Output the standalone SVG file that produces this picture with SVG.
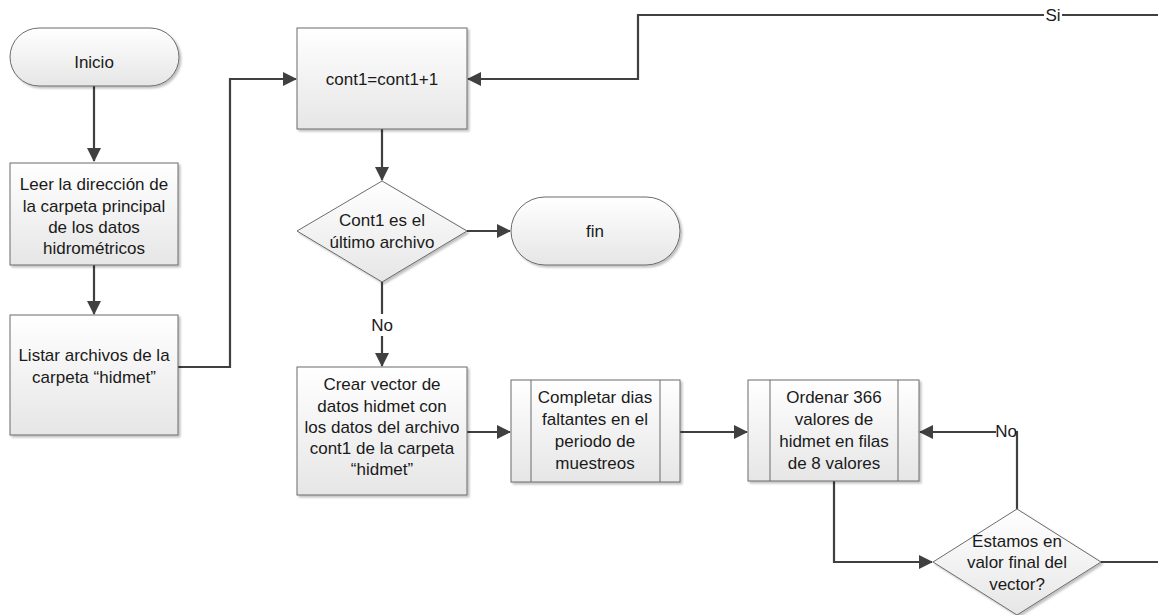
<svg xmlns="http://www.w3.org/2000/svg" width="1158" height="615" viewBox="0 0 1158 615">
<defs>
<linearGradient id="g" x1="0" y1="0" x2="0" y2="1">
<stop offset="0" stop-color="#ffffff"/>
<stop offset="1" stop-color="#e6e6e6"/>
</linearGradient>
<filter id="sh" x="-10%" y="-10%" width="130%" height="130%">
<feOffset in="SourceAlpha" dx="2" dy="2" result="o"/>
<feGaussianBlur in="o" stdDeviation="1.2" result="b"/>
<feComponentTransfer in="b" result="c"><feFuncA type="linear" slope="0.25"/></feComponentTransfer>
<feMerge><feMergeNode in="c"/><feMergeNode in="SourceGraphic"/></feMerge>
</filter>
<marker id="ah" markerWidth="14" markerHeight="14" refX="13" refY="7" orient="auto" markerUnits="userSpaceOnUse">
<path d="M0,0 L14,7 L0,14 Z" fill="#404040"/>
</marker>
</defs>
<style>
.s{fill:url(#g);stroke:#6b6b6b;stroke-width:1;filter:url(#sh)}
.l{fill:none;stroke:#404040;stroke-width:2.2}
.t{font-family:"Liberation Sans",Arial,sans-serif;font-size:17px;fill:#1a1a1a;text-anchor:middle}
.lb{fill:#ffffff}
</style>
<rect width="1158" height="615" fill="#ffffff"/>
<g id="connectors">
<path class="l" d="M94,86 V161" marker-end="url(#ah)"/>
<path class="l" d="M94,265 V314" marker-end="url(#ah)"/>
<path class="l" d="M178,367 H230 V79 H296" marker-end="url(#ah)"/>
<path class="l" d="M382,129 V180" marker-end="url(#ah)"/>
<path class="l" d="M467,231 H510" marker-end="url(#ah)"/>
<path class="l" d="M382,282 V366" marker-end="url(#ah)"/>
<path class="l" d="M467,432 H510" marker-end="url(#ah)"/>
<path class="l" d="M680,432 H747" marker-end="url(#ah)"/>
<path class="l" d="M834,481 V562 H932" marker-end="url(#ah)"/>
<path class="l" d="M1017,509 V432 H920" marker-end="url(#ah)"/>
<path class="l" d="M1101,562 H1160"/>
<path class="l" d="M1160,15 H638 V79 H468" marker-end="url(#ah)"/>
<rect class="lb" x="369" y="314" width="26" height="22"/>
<text class="t" x="382" y="331">No</text>
<rect class="lb" x="996" y="421" width="19" height="22"/>
<text class="t" x="1006" y="437">No</text>
<rect class="lb" x="1044" y="4" width="18" height="22"/>
<text class="t" x="1053" y="21">Si</text>
</g>
<g id="inicio">
<rect class="s" x="10" y="28" width="169" height="58" rx="29" ry="29"/>
<text class="t" x="94" y="68">Inicio</text>
</g>
<g id="leer">
<rect class="s" x="10" y="163" width="168" height="102"/>
<text class="t" x="94" y="190">Leer la dirección de</text>
<text class="t" x="94" y="212">la carpeta principal</text>
<text class="t" x="94" y="233">de los datos</text>
<text class="t" x="94" y="254">hidrométricos</text>
</g>
<g id="listar">
<rect class="s" x="10" y="315" width="168" height="120"/>
<text class="t" x="94" y="361">Listar archivos de la</text>
<text class="t" x="94" y="383">carpeta “hidmet”</text>
</g>
<g id="cont">
<rect class="s" x="297" y="28" width="170" height="101"/>
<text class="t" x="382" y="85">cont1=cont1+1</text>
</g>
<g id="decision1">
<polygon class="s" points="382,181 467,231 382,282 297,231"/>
<text class="t" x="382" y="226">Cont1 es el</text>
<text class="t" x="382" y="248">último archivo</text>
</g>
<g id="fin">
<rect class="s" x="511" y="197" width="169" height="68" rx="34" ry="34"/>
<text class="t" x="595" y="237">fin</text>
</g>
<g id="crear">
<rect class="s" x="297" y="367" width="170" height="128"/>
<text class="t" x="382" y="390">Crear vector de</text>
<text class="t" x="382" y="412">datos hidmet con</text>
<text class="t" x="382" y="433">los datos del archivo</text>
<text class="t" x="382" y="454">cont1 de la carpeta</text>
<text class="t" x="382" y="475">“hidmet”</text>
</g>
<g id="completar">
<rect class="s" x="511" y="380" width="169" height="102"/>
<path d="M531,380 V482 M660,380 V482" stroke="#6b6b6b" stroke-width="1" fill="none"/>
<text class="t" x="595" y="403">Completar dias</text>
<text class="t" x="595" y="425">faltantes en el</text>
<text class="t" x="595" y="447">periodo de</text>
<text class="t" x="595" y="469">muestreos</text>
</g>
<g id="ordenar">
<rect class="s" x="748" y="380" width="171" height="101"/>
<path d="M770,380 V481 M898,380 V481" stroke="#6b6b6b" stroke-width="1" fill="none"/>
<text class="t" x="834" y="403">Ordenar 366</text>
<text class="t" x="834" y="425">valores de</text>
<text class="t" x="834" y="447">hidmet en filas</text>
<text class="t" x="834" y="469">de 8 valores</text>
</g>
<g id="decision2">
<polygon class="s" points="1017,509 1101,562 1017,615 933,562"/>
<text class="t" x="1017" y="547">Estamos en</text>
<text class="t" x="1017" y="568">valor final del</text>
<text class="t" x="1017" y="590">vector?</text>
</g>
</svg>
